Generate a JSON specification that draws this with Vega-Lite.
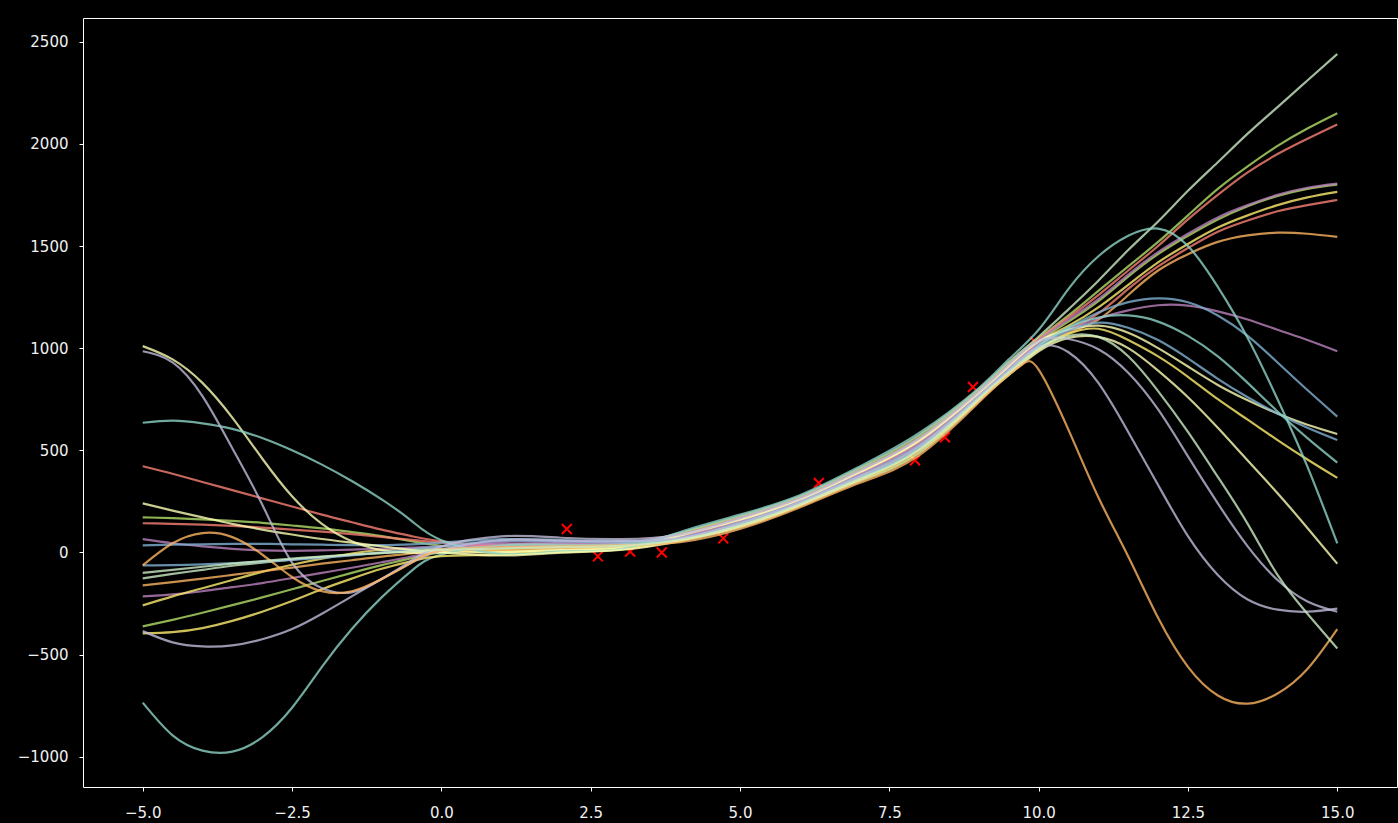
{
  "$schema": "https://vega.github.io/schema/vega-lite/v6.json",
  "width": 1314,
  "height": 769,
  "autosize": {"type": "none"},
  "padding": {"left": 83, "top": 18, "right": 1, "bottom": 36},
  "background": "#000000",
  "config": {
    "view": {"stroke": "#ffffff", "strokeWidth": 1, "fill": "#000000"},
    "axis": {"domain": false, "grid": false, "tickColor": "#ffffff", "tickSize": 4, "labelColor": "#f0f0f0", "labelFont": "DejaVu Sans", "labelFontSize": 15, "title": null}
  },
  "datasets": {
    "pts": [
      {"x": 2.1, "y": 115}, {"x": 2.62, "y": -19}, {"x": 3.16, "y": 5}, {"x": 3.69, "y": 0},
      {"x": 4.72, "y": 69}, {"x": 6.32, "y": 340}, {"x": 7.93, "y": 451}, {"x": 8.43, "y": 564},
      {"x": 8.9, "y": 810}, {"x": 9.94, "y": 1030}
    ],
    "curves": [
      {"c":"a","x":-5,"y":-127},{"c":"a","x":-4.5,"y":-105},{"c":"a","x":-4,"y":-85},{"c":"a","x":-3.5,"y":-65},{"c":"a","x":-3,"y":-50},{"c":"a","x":-2.5,"y":-35},{"c":"a","x":-2,"y":-22},{"c":"a","x":-1.5,"y":-12},{"c":"a","x":-1,"y":-3},{"c":"a","x":-0.5,"y":5},{"c":"a","x":0,"y":15},{"c":"a","x":1,"y":38},{"c":"a","x":2,"y":40},{"c":"a","x":3,"y":42},{"c":"a","x":4,"y":95},{"c":"a","x":5,"y":178},{"c":"a","x":6,"y":274},{"c":"a","x":7,"y":412},{"c":"a","x":8,"y":574},{"c":"a","x":9,"y":798},{"c":"a","x":9.5,"y":932},{"c":"a","x":10,"y":1056},{"c":"a","x":10.5,"y":1190},{"c":"a","x":11,"y":1330},{"c":"a","x":11.5,"y":1480},{"c":"a","x":12,"y":1620},{"c":"a","x":12.5,"y":1770},{"c":"a","x":13,"y":1910},{"c":"a","x":13.5,"y":2050},{"c":"a","x":14,"y":2180},{"c":"a","x":14.5,"y":2310},{"c":"a","x":15,"y":2440},
      {"c":"b","x":-5,"y":172},{"c":"b","x":-4.5,"y":168},{"c":"b","x":-4,"y":162},{"c":"b","x":-3.5,"y":155},{"c":"b","x":-3,"y":145},{"c":"b","x":-2.5,"y":132},{"c":"b","x":-2,"y":118},{"c":"b","x":-1.5,"y":100},{"c":"b","x":-1,"y":80},{"c":"b","x":-0.5,"y":55},{"c":"b","x":0,"y":32},{"c":"b","x":1,"y":7},{"c":"b","x":2,"y":16},{"c":"b","x":3,"y":25},{"c":"b","x":4,"y":90},{"c":"b","x":5,"y":171},{"c":"b","x":6,"y":268},{"c":"b","x":7,"y":404},{"c":"b","x":8,"y":563},{"c":"b","x":9,"y":791},{"c":"b","x":9.5,"y":924},{"c":"b","x":10,"y":1047},{"c":"b","x":10.5,"y":1160},{"c":"b","x":11,"y":1280},{"c":"b","x":11.5,"y":1400},{"c":"b","x":12,"y":1520},{"c":"b","x":12.5,"y":1650},{"c":"b","x":13,"y":1780},{"c":"b","x":13.5,"y":1890},{"c":"b","x":14,"y":1990},{"c":"b","x":14.5,"y":2075},{"c":"b","x":15,"y":2150},
      {"c":"c","x":-5,"y":422},{"c":"c","x":-4.5,"y":385},{"c":"c","x":-4,"y":345},{"c":"c","x":-3.5,"y":305},{"c":"c","x":-3,"y":265},{"c":"c","x":-2.5,"y":225},{"c":"c","x":-2,"y":185},{"c":"c","x":-1.5,"y":148},{"c":"c","x":-1,"y":112},{"c":"c","x":-0.5,"y":80},{"c":"c","x":0,"y":55},{"c":"c","x":1,"y":34},{"c":"c","x":2,"y":37},{"c":"c","x":3,"y":40},{"c":"c","x":4,"y":88},{"c":"c","x":5,"y":168},{"c":"c","x":6,"y":265},{"c":"c","x":7,"y":400},{"c":"c","x":8,"y":558},{"c":"c","x":9,"y":788},{"c":"c","x":9.5,"y":920},{"c":"c","x":10,"y":1042},{"c":"c","x":10.5,"y":1150},{"c":"c","x":11,"y":1260},{"c":"c","x":11.5,"y":1380},{"c":"c","x":12,"y":1500},{"c":"c","x":12.5,"y":1630},{"c":"c","x":13,"y":1750},{"c":"c","x":13.5,"y":1860},{"c":"c","x":14,"y":1950},{"c":"c","x":14.5,"y":2025},{"c":"c","x":15,"y":2095},
      {"c":"d","x":-5,"y":-362},{"c":"d","x":-4.5,"y":-330},{"c":"d","x":-4,"y":-295},{"c":"d","x":-3.5,"y":-258},{"c":"d","x":-3,"y":-220},{"c":"d","x":-2.5,"y":-180},{"c":"d","x":-2,"y":-140},{"c":"d","x":-1.5,"y":-100},{"c":"d","x":-1,"y":-62},{"c":"d","x":-0.5,"y":-28},{"c":"d","x":0,"y":0},{"c":"d","x":1,"y":16},{"c":"d","x":2,"y":23},{"c":"d","x":3,"y":30},{"c":"d","x":4,"y":83},{"c":"d","x":5,"y":160},{"c":"d","x":6,"y":259},{"c":"d","x":7,"y":392},{"c":"d","x":8,"y":547},{"c":"d","x":9,"y":781},{"c":"d","x":9.5,"y":912},{"c":"d","x":10,"y":1033},{"c":"d","x":10.5,"y":1130},{"c":"d","x":11,"y":1230},{"c":"d","x":11.5,"y":1350},{"c":"d","x":12,"y":1460},{"c":"d","x":12.5,"y":1550},{"c":"d","x":13,"y":1630},{"c":"d","x":13.5,"y":1695},{"c":"d","x":14,"y":1745},{"c":"d","x":14.5,"y":1780},{"c":"d","x":15,"y":1800},
      {"c":"e","x":-5,"y":-215},{"c":"e","x":-4.5,"y":-205},{"c":"e","x":-4,"y":-190},{"c":"e","x":-3.5,"y":-170},{"c":"e","x":-3,"y":-150},{"c":"e","x":-2.5,"y":-125},{"c":"e","x":-2,"y":-100},{"c":"e","x":-1.5,"y":-75},{"c":"e","x":-1,"y":-48},{"c":"e","x":-0.5,"y":-20},{"c":"e","x":0,"y":10},{"c":"e","x":1,"y":52},{"c":"e","x":2,"y":51},{"c":"e","x":3,"y":50},{"c":"e","x":4,"y":85},{"c":"e","x":5,"y":164},{"c":"e","x":6,"y":262},{"c":"e","x":7,"y":396},{"c":"e","x":8,"y":552},{"c":"e","x":9,"y":784},{"c":"e","x":9.5,"y":916},{"c":"e","x":10,"y":1038},{"c":"e","x":10.5,"y":1140},{"c":"e","x":11,"y":1240},{"c":"e","x":11.5,"y":1360},{"c":"e","x":12,"y":1470},{"c":"e","x":12.5,"y":1560},{"c":"e","x":13,"y":1640},{"c":"e","x":13.5,"y":1700},{"c":"e","x":14,"y":1750},{"c":"e","x":14.5,"y":1785},{"c":"e","x":15,"y":1805},
      {"c":"f","x":-5,"y":-259},{"c":"f","x":-4.5,"y":-215},{"c":"f","x":-4,"y":-175},{"c":"f","x":-3.5,"y":-135},{"c":"f","x":-3,"y":-95},{"c":"f","x":-2.5,"y":-60},{"c":"f","x":-2,"y":-30},{"c":"f","x":-1.5,"y":-5},{"c":"f","x":-1,"y":12},{"c":"f","x":-0.5,"y":18},{"c":"f","x":0,"y":15},{"c":"f","x":1,"y":-2},{"c":"f","x":2,"y":9},{"c":"f","x":3,"y":20},{"c":"f","x":4,"y":80},{"c":"f","x":5,"y":157},{"c":"f","x":6,"y":256},{"c":"f","x":7,"y":388},{"c":"f","x":8,"y":541},{"c":"f","x":9,"y":777},{"c":"f","x":9.5,"y":908},{"c":"f","x":10,"y":1029},{"c":"f","x":10.5,"y":1110},{"c":"f","x":11,"y":1200},{"c":"f","x":11.5,"y":1310},{"c":"f","x":12,"y":1420},{"c":"f","x":12.5,"y":1510},{"c":"f","x":13,"y":1590},{"c":"f","x":13.5,"y":1650},{"c":"f","x":14,"y":1700},{"c":"f","x":14.5,"y":1738},{"c":"f","x":15,"y":1765},
      {"c":"g","x":-5,"y":143},{"c":"g","x":-4.5,"y":140},{"c":"g","x":-4,"y":136},{"c":"g","x":-3.5,"y":130},{"c":"g","x":-3,"y":122},{"c":"g","x":-2.5,"y":112},{"c":"g","x":-2,"y":102},{"c":"g","x":-1.5,"y":90},{"c":"g","x":-1,"y":76},{"c":"g","x":-0.5,"y":62},{"c":"g","x":0,"y":48},{"c":"g","x":1,"y":30},{"c":"g","x":2,"y":33},{"c":"g","x":3,"y":37},{"c":"g","x":4,"y":75},{"c":"g","x":5,"y":150},{"c":"g","x":6,"y":250},{"c":"g","x":7,"y":380},{"c":"g","x":8,"y":530},{"c":"g","x":9,"y":770},{"c":"g","x":9.5,"y":900},{"c":"g","x":10,"y":1020},{"c":"g","x":10.5,"y":1090},{"c":"g","x":11,"y":1170},{"c":"g","x":11.5,"y":1290},{"c":"g","x":12,"y":1400},{"c":"g","x":12.5,"y":1490},{"c":"g","x":13,"y":1570},{"c":"g","x":13.5,"y":1625},{"c":"g","x":14,"y":1670},{"c":"g","x":14.5,"y":1700},{"c":"g","x":15,"y":1725},
      {"c":"h","x":-5,"y":-161},{"c":"h","x":-4.5,"y":-145},{"c":"h","x":-4,"y":-128},{"c":"h","x":-3.5,"y":-110},{"c":"h","x":-3,"y":-92},{"c":"h","x":-2.5,"y":-74},{"c":"h","x":-2,"y":-55},{"c":"h","x":-1.5,"y":-38},{"c":"h","x":-1,"y":-20},{"c":"h","x":-0.5,"y":-5},{"c":"h","x":0,"y":8},{"c":"h","x":1,"y":11},{"c":"h","x":2,"y":19},{"c":"h","x":3,"y":27},{"c":"h","x":4,"y":62},{"c":"h","x":5,"y":132},{"c":"h","x":6,"y":235},{"c":"h","x":7,"y":360},{"c":"h","x":8,"y":503},{"c":"h","x":9,"y":753},{"c":"h","x":9.5,"y":880},{"c":"h","x":10,"y":997},{"c":"h","x":10.5,"y":1075},{"c":"h","x":11,"y":1140},{"c":"h","x":11.5,"y":1260},{"c":"h","x":12,"y":1380},{"c":"h","x":12.5,"y":1460},{"c":"h","x":13,"y":1520},{"c":"h","x":13.5,"y":1552},{"c":"h","x":14,"y":1565},{"c":"h","x":14.5,"y":1560},{"c":"h","x":15,"y":1545},
      {"c":"i","x":-5,"y":65},{"c":"i","x":-4.5,"y":45},{"c":"i","x":-4,"y":30},{"c":"i","x":-3.5,"y":18},{"c":"i","x":-3,"y":10},{"c":"i","x":-2.5,"y":8},{"c":"i","x":-2,"y":10},{"c":"i","x":-1.5,"y":14},{"c":"i","x":-1,"y":18},{"c":"i","x":-0.5,"y":24},{"c":"i","x":0,"y":30},{"c":"i","x":1,"y":43},{"c":"i","x":2,"y":44},{"c":"i","x":3,"y":45},{"c":"i","x":4,"y":78},{"c":"i","x":5,"y":153},{"c":"i","x":6,"y":253},{"c":"i","x":7,"y":384},{"c":"i","x":8,"y":536},{"c":"i","x":9,"y":774},{"c":"i","x":9.5,"y":904},{"c":"i","x":10,"y":1024},{"c":"i","x":10.5,"y":1090},{"c":"i","x":11,"y":1145},{"c":"i","x":11.5,"y":1185},{"c":"i","x":12,"y":1210},{"c":"i","x":12.5,"y":1208},{"c":"i","x":13,"y":1180},{"c":"i","x":13.5,"y":1140},{"c":"i","x":14,"y":1090},{"c":"i","x":14.5,"y":1040},{"c":"i","x":15,"y":985},
      {"c":"j","x":-5,"y":35},{"c":"j","x":-4.5,"y":38},{"c":"j","x":-4,"y":40},{"c":"j","x":-3.5,"y":42},{"c":"j","x":-3,"y":42},{"c":"j","x":-2.5,"y":40},{"c":"j","x":-2,"y":38},{"c":"j","x":-1.5,"y":36},{"c":"j","x":-1,"y":36},{"c":"j","x":-0.5,"y":40},{"c":"j","x":0,"y":48},{"c":"j","x":1,"y":65},{"c":"j","x":2,"y":61},{"c":"j","x":3,"y":57},{"c":"j","x":4,"y":72},{"c":"j","x":5,"y":146},{"c":"j","x":6,"y":247},{"c":"j","x":7,"y":376},{"c":"j","x":8,"y":525},{"c":"j","x":9,"y":767},{"c":"j","x":9.5,"y":896},{"c":"j","x":10,"y":1015},{"c":"j","x":10.5,"y":1100},{"c":"j","x":11,"y":1175},{"c":"j","x":11.5,"y":1225},{"c":"j","x":12,"y":1244},{"c":"j","x":12.5,"y":1225},{"c":"j","x":13,"y":1160},{"c":"j","x":13.5,"y":1060},{"c":"j","x":14,"y":930},{"c":"j","x":14.5,"y":795},{"c":"j","x":15,"y":665},
      {"c":"k","x":-5,"y":1010},{"c":"k","x":-4.5,"y":945},{"c":"k","x":-4,"y":830},{"c":"k","x":-3.5,"y":660},{"c":"k","x":-3,"y":460},{"c":"k","x":-2.5,"y":275},{"c":"k","x":-2,"y":140},{"c":"k","x":-1.5,"y":55},{"c":"k","x":-1,"y":12},{"c":"k","x":-0.5,"y":-2},{"c":"k","x":0,"y":0},{"c":"k","x":1,"y":2},{"c":"k","x":2,"y":12},{"c":"k","x":3,"y":22},{"c":"k","x":4,"y":83},{"c":"k","x":5,"y":160},{"c":"k","x":6,"y":259},{"c":"k","x":7,"y":392},{"c":"k","x":8,"y":547},{"c":"k","x":9,"y":781},{"c":"k","x":9.5,"y":912},{"c":"k","x":10,"y":1033},{"c":"k","x":10.5,"y":1090},{"c":"k","x":11,"y":1110},{"c":"k","x":11.5,"y":1075},{"c":"k","x":12,"y":1000},{"c":"k","x":12.5,"y":910},{"c":"k","x":13,"y":820},{"c":"k","x":13.5,"y":745},{"c":"k","x":14,"y":680},{"c":"k","x":14.5,"y":625},{"c":"k","x":15,"y":580},
      {"c":"l","x":-5,"y":-63},{"c":"l","x":-4.5,"y":-62},{"c":"l","x":-4,"y":-58},{"c":"l","x":-3.5,"y":-52},{"c":"l","x":-3,"y":-45},{"c":"l","x":-2.5,"y":-36},{"c":"l","x":-2,"y":-27},{"c":"l","x":-1.5,"y":-15},{"c":"l","x":-1,"y":0},{"c":"l","x":-0.5,"y":15},{"c":"l","x":0,"y":30},{"c":"l","x":1,"y":57},{"c":"l","x":2,"y":54},{"c":"l","x":3,"y":52},{"c":"l","x":4,"y":68},{"c":"l","x":5,"y":140},{"c":"l","x":6,"y":241},{"c":"l","x":7,"y":368},{"c":"l","x":8,"y":514},{"c":"l","x":9,"y":760},{"c":"l","x":9.5,"y":888},{"c":"l","x":10,"y":1006},{"c":"l","x":10.5,"y":1085},{"c":"l","x":11,"y":1125},{"c":"l","x":11.5,"y":1100},{"c":"l","x":12,"y":1040},{"c":"l","x":12.5,"y":950},{"c":"l","x":13,"y":850},{"c":"l","x":13.5,"y":760},{"c":"l","x":14,"y":680},{"c":"l","x":14.5,"y":610},{"c":"l","x":15,"y":550},
      {"c":"m","x":-5,"y":-735},{"c":"m","x":-4.5,"y":-895},{"c":"m","x":-4,"y":-970},{"c":"m","x":-3.5,"y":-975},{"c":"m","x":-3,"y":-905},{"c":"m","x":-2.5,"y":-760},{"c":"m","x":-2,"y":-560},{"c":"m","x":-1.5,"y":-375},{"c":"m","x":-1,"y":-220},{"c":"m","x":-0.5,"y":-90},{"c":"m","x":0,"y":-10},{"c":"m","x":1,"y":34},{"c":"m","x":2,"y":37},{"c":"m","x":3,"y":40},{"c":"m","x":4,"y":65},{"c":"m","x":5,"y":136},{"c":"m","x":6,"y":238},{"c":"m","x":7,"y":364},{"c":"m","x":8,"y":508},{"c":"m","x":9,"y":756},{"c":"m","x":9.5,"y":884},{"c":"m","x":10,"y":1010},{"c":"m","x":10.5,"y":1100},{"c":"m","x":11,"y":1150},{"c":"m","x":11.5,"y":1160},{"c":"m","x":12,"y":1130},{"c":"m","x":12.5,"y":1060},{"c":"m","x":13,"y":960},{"c":"m","x":13.5,"y":830},{"c":"m","x":14,"y":690},{"c":"m","x":14.5,"y":560},{"c":"m","x":15,"y":440},
      {"c":"n","x":-5,"y":-396},{"c":"n","x":-4.5,"y":-390},{"c":"n","x":-4,"y":-370},{"c":"n","x":-3.5,"y":-335},{"c":"n","x":-3,"y":-290},{"c":"n","x":-2.5,"y":-238},{"c":"n","x":-2,"y":-180},{"c":"n","x":-1.5,"y":-128},{"c":"n","x":-1,"y":-80},{"c":"n","x":-0.5,"y":-42},{"c":"n","x":0,"y":-18},{"c":"n","x":1,"y":-11},{"c":"n","x":2,"y":2},{"c":"n","x":3,"y":15},{"c":"n","x":4,"y":60},{"c":"n","x":5,"y":129},{"c":"n","x":6,"y":232},{"c":"n","x":7,"y":356},{"c":"n","x":8,"y":497},{"c":"n","x":9,"y":749},{"c":"n","x":9.5,"y":876},{"c":"n","x":10,"y":993},{"c":"n","x":10.5,"y":1070},{"c":"n","x":11,"y":1095},{"c":"n","x":11.5,"y":1040},{"c":"n","x":12,"y":960},{"c":"n","x":12.5,"y":860},{"c":"n","x":13,"y":750},{"c":"n","x":13.5,"y":650},{"c":"n","x":14,"y":550},{"c":"n","x":14.5,"y":455},{"c":"n","x":15,"y":365},
      {"c":"o","x":-5,"y":635},{"c":"o","x":-4.5,"y":645},{"c":"o","x":-4,"y":632},{"c":"o","x":-3.5,"y":605},{"c":"o","x":-3,"y":560},{"c":"o","x":-2.5,"y":500},{"c":"o","x":-2,"y":430},{"c":"o","x":-1.5,"y":350},{"c":"o","x":-1,"y":260},{"c":"o","x":-0.5,"y":155},{"c":"o","x":0,"y":60},{"c":"o","x":1,"y":-7},{"c":"o","x":2,"y":5},{"c":"o","x":3,"y":17},{"c":"o","x":4,"y":100},{"c":"o","x":5,"y":185},{"c":"o","x":6,"y":280},{"c":"o","x":7,"y":420},{"c":"o","x":8,"y":585},{"c":"o","x":9,"y":805},{"c":"o","x":9.5,"y":945},{"c":"o","x":10,"y":1090},{"c":"o","x":10.5,"y":1290},{"c":"o","x":11,"y":1450},{"c":"o","x":11.5,"y":1550},{"c":"o","x":12,"y":1585},{"c":"o","x":12.5,"y":1500},{"c":"o","x":13,"y":1300},{"c":"o","x":13.5,"y":1050},{"c":"o","x":14,"y":750},{"c":"o","x":14.5,"y":420},{"c":"o","x":15,"y":45},
      {"c":"p","x":-5,"y":240},{"c":"p","x":-4.5,"y":205},{"c":"p","x":-4,"y":172},{"c":"p","x":-3.5,"y":140},{"c":"p","x":-3,"y":112},{"c":"p","x":-2.5,"y":88},{"c":"p","x":-2,"y":66},{"c":"p","x":-1.5,"y":48},{"c":"p","x":-1,"y":30},{"c":"p","x":-0.5,"y":12},{"c":"p","x":0,"y":0},{"c":"p","x":1,"y":-15},{"c":"p","x":2,"y":-1},{"c":"p","x":3,"y":12},{"c":"p","x":4,"y":55},{"c":"p","x":5,"y":122},{"c":"p","x":6,"y":226},{"c":"p","x":7,"y":348},{"c":"p","x":8,"y":486},{"c":"p","x":9,"y":742},{"c":"p","x":9.5,"y":868},{"c":"p","x":10,"y":984},{"c":"p","x":10.5,"y":1050},{"c":"p","x":11,"y":1055},{"c":"p","x":11.5,"y":1000},{"c":"p","x":12,"y":890},{"c":"p","x":12.5,"y":760},{"c":"p","x":13,"y":610},{"c":"p","x":13.5,"y":450},{"c":"p","x":14,"y":290},{"c":"p","x":14.5,"y":120},{"c":"p","x":15,"y":-55},
      {"c":"q","x":-5,"y":985},{"c":"q","x":-4.5,"y":930},{"c":"q","x":-4,"y":765},{"c":"q","x":-3.5,"y":510},{"c":"q","x":-3,"y":235},{"c":"q","x":-2.5,"y":-50},{"c":"q","x":-2,"y":-175},{"c":"q","x":-1.5,"y":-195},{"c":"q","x":-1,"y":-130},{"c":"q","x":-0.5,"y":-40},{"c":"q","x":0,"y":30},{"c":"q","x":1,"y":79},{"c":"q","x":2,"y":72},{"c":"q","x":3,"y":65},{"c":"q","x":4,"y":88},{"c":"q","x":5,"y":168},{"c":"q","x":6,"y":265},{"c":"q","x":7,"y":400},{"c":"q","x":8,"y":558},{"c":"q","x":9,"y":788},{"c":"q","x":9.5,"y":920},{"c":"q","x":10,"y":1035},{"c":"q","x":10.5,"y":1045},{"c":"q","x":11,"y":995},{"c":"q","x":11.5,"y":880},{"c":"q","x":12,"y":700},{"c":"q","x":12.5,"y":470},{"c":"q","x":13,"y":240},{"c":"q","x":13.5,"y":30},{"c":"q","x":14,"y":-135},{"c":"q","x":14.5,"y":-240},{"c":"q","x":15,"y":-290},
      {"c":"r","x":-5,"y":-385},{"c":"r","x":-4.5,"y":-440},{"c":"r","x":-4,"y":-460},{"c":"r","x":-3.5,"y":-455},{"c":"r","x":-3,"y":-425},{"c":"r","x":-2.5,"y":-375},{"c":"r","x":-2,"y":-300},{"c":"r","x":-1.5,"y":-215},{"c":"r","x":-1,"y":-130},{"c":"r","x":-0.5,"y":-50},{"c":"r","x":0,"y":10},{"c":"r","x":1,"y":61},{"c":"r","x":2,"y":58},{"c":"r","x":3,"y":55},{"c":"r","x":4,"y":70},{"c":"r","x":5,"y":143},{"c":"r","x":6,"y":244},{"c":"r","x":7,"y":372},{"c":"r","x":8,"y":519},{"c":"r","x":9,"y":763},{"c":"r","x":9.5,"y":892},{"c":"r","x":10,"y":1005},{"c":"r","x":10.5,"y":980},{"c":"r","x":11,"y":830},{"c":"r","x":11.5,"y":590},{"c":"r","x":12,"y":330},{"c":"r","x":12.5,"y":80},{"c":"r","x":13,"y":-110},{"c":"r","x":13.5,"y":-230},{"c":"r","x":14,"y":-280},{"c":"r","x":14.5,"y":-290},{"c":"r","x":15,"y":-275},
      {"c":"s","x":-5,"y":-63},{"c":"s","x":-4.5,"y":45},{"c":"s","x":-4,"y":95},{"c":"s","x":-3.5,"y":75},{"c":"s","x":-3,"y":-10},{"c":"s","x":-2.5,"y":-120},{"c":"s","x":-2,"y":-190},{"c":"s","x":-1.5,"y":-190},{"c":"s","x":-1,"y":-130},{"c":"s","x":-0.5,"y":-50},{"c":"s","x":0,"y":10},{"c":"s","x":1,"y":25},{"c":"s","x":2,"y":30},{"c":"s","x":3,"y":35},{"c":"s","x":4,"y":50},{"c":"s","x":5,"y":115},{"c":"s","x":6,"y":220},{"c":"s","x":7,"y":340},{"c":"s","x":8,"y":475},{"c":"s","x":9,"y":735},{"c":"s","x":9.5,"y":870},{"c":"s","x":9.75,"y":925},{"c":"s","x":10,"y":895},{"c":"s","x":10.5,"y":600},{"c":"s","x":11,"y":270},{"c":"s","x":11.5,"y":-20},{"c":"s","x":12,"y":-320},{"c":"s","x":12.5,"y":-560},{"c":"s","x":13,"y":-700},{"c":"s","x":13.5,"y":-740},{"c":"s","x":14,"y":-690},{"c":"s","x":14.5,"y":-570},{"c":"s","x":15,"y":-375},
      {"c":"t","x":-5,"y":-100},{"c":"t","x":-4.5,"y":-85},{"c":"t","x":-4,"y":-70},{"c":"t","x":-3.5,"y":-55},{"c":"t","x":-3,"y":-42},{"c":"t","x":-2.5,"y":-30},{"c":"t","x":-2,"y":-20},{"c":"t","x":-1.5,"y":-10},{"c":"t","x":-1,"y":-2},{"c":"t","x":-0.5,"y":5},{"c":"t","x":0,"y":12},{"c":"t","x":1,"y":20},{"c":"t","x":2,"y":26},{"c":"t","x":3,"y":32},{"c":"t","x":4,"y":62},{"c":"t","x":5,"y":132},{"c":"t","x":6,"y":235},{"c":"t","x":7,"y":360},{"c":"t","x":8,"y":503},{"c":"t","x":9,"y":753},{"c":"t","x":9.5,"y":880},{"c":"t","x":10,"y":997},{"c":"t","x":10.5,"y":1060},{"c":"t","x":11,"y":1055},{"c":"t","x":11.5,"y":960},{"c":"t","x":12,"y":790},{"c":"t","x":12.5,"y":590},{"c":"t","x":13,"y":370},{"c":"t","x":13.5,"y":140},{"c":"t","x":14,"y":-110},{"c":"t","x":14.5,"y":-300},{"c":"t","x":15,"y":-470}
    ]
  },
  "encoding": {
    "x": {"field": "x", "type": "quantitative", "scale": {"domain": [-6, 16], "nice": false, "zero": false},
          "axis": {"values": [-5, -2.5, 0, 2.5, 5, 7.5, 10, 12.5, 15], "format": ".1f", "labelPadding": 14}},
    "y": {"field": "y", "type": "quantitative", "scale": {"domain": [-1148, 2616], "nice": false, "zero": false},
          "axis": {"values": [-1000, -500, 0, 500, 1000, 1500, 2000, 2500], "format": "d", "labelPadding": 11}}
  },
  "layer": [
    {
      "data": {"name": "pts"},
      "mark": {"type": "point", "shape": "M-1,-1L1,1M-1,1L1,-1", "filled": false, "stroke": "#ff0000", "strokeWidth": 2, "size": 100, "opacity": 1}
    },
    {
      "data": {"name": "curves"},
      "mark": {"type": "line", "interpolate": "natural", "strokeWidth": 2.2, "opacity": 0.8},
      "encoding": {
        "color": {"field": "c", "type": "nominal", "legend": null,
          "scale": {"domain": ["a","b","c","d","e","f","g","h","i","j","k","l","m","n","o","p","q","r","s","t"],
                    "range": ["#ccebc4","#b3de69","#fa8174","#b3de69","#bc82bd","#ffed6f","#fa8174","#fdb462","#bc82bd","#81b1d2","#feffb3","#81b1d2","#8dd3c7","#ffed6f","#8dd3c7","#feffb3","#bfbbd9","#bfbbd9","#fdb462","#ccebc4"]}}
      }
    }
  ]
}
